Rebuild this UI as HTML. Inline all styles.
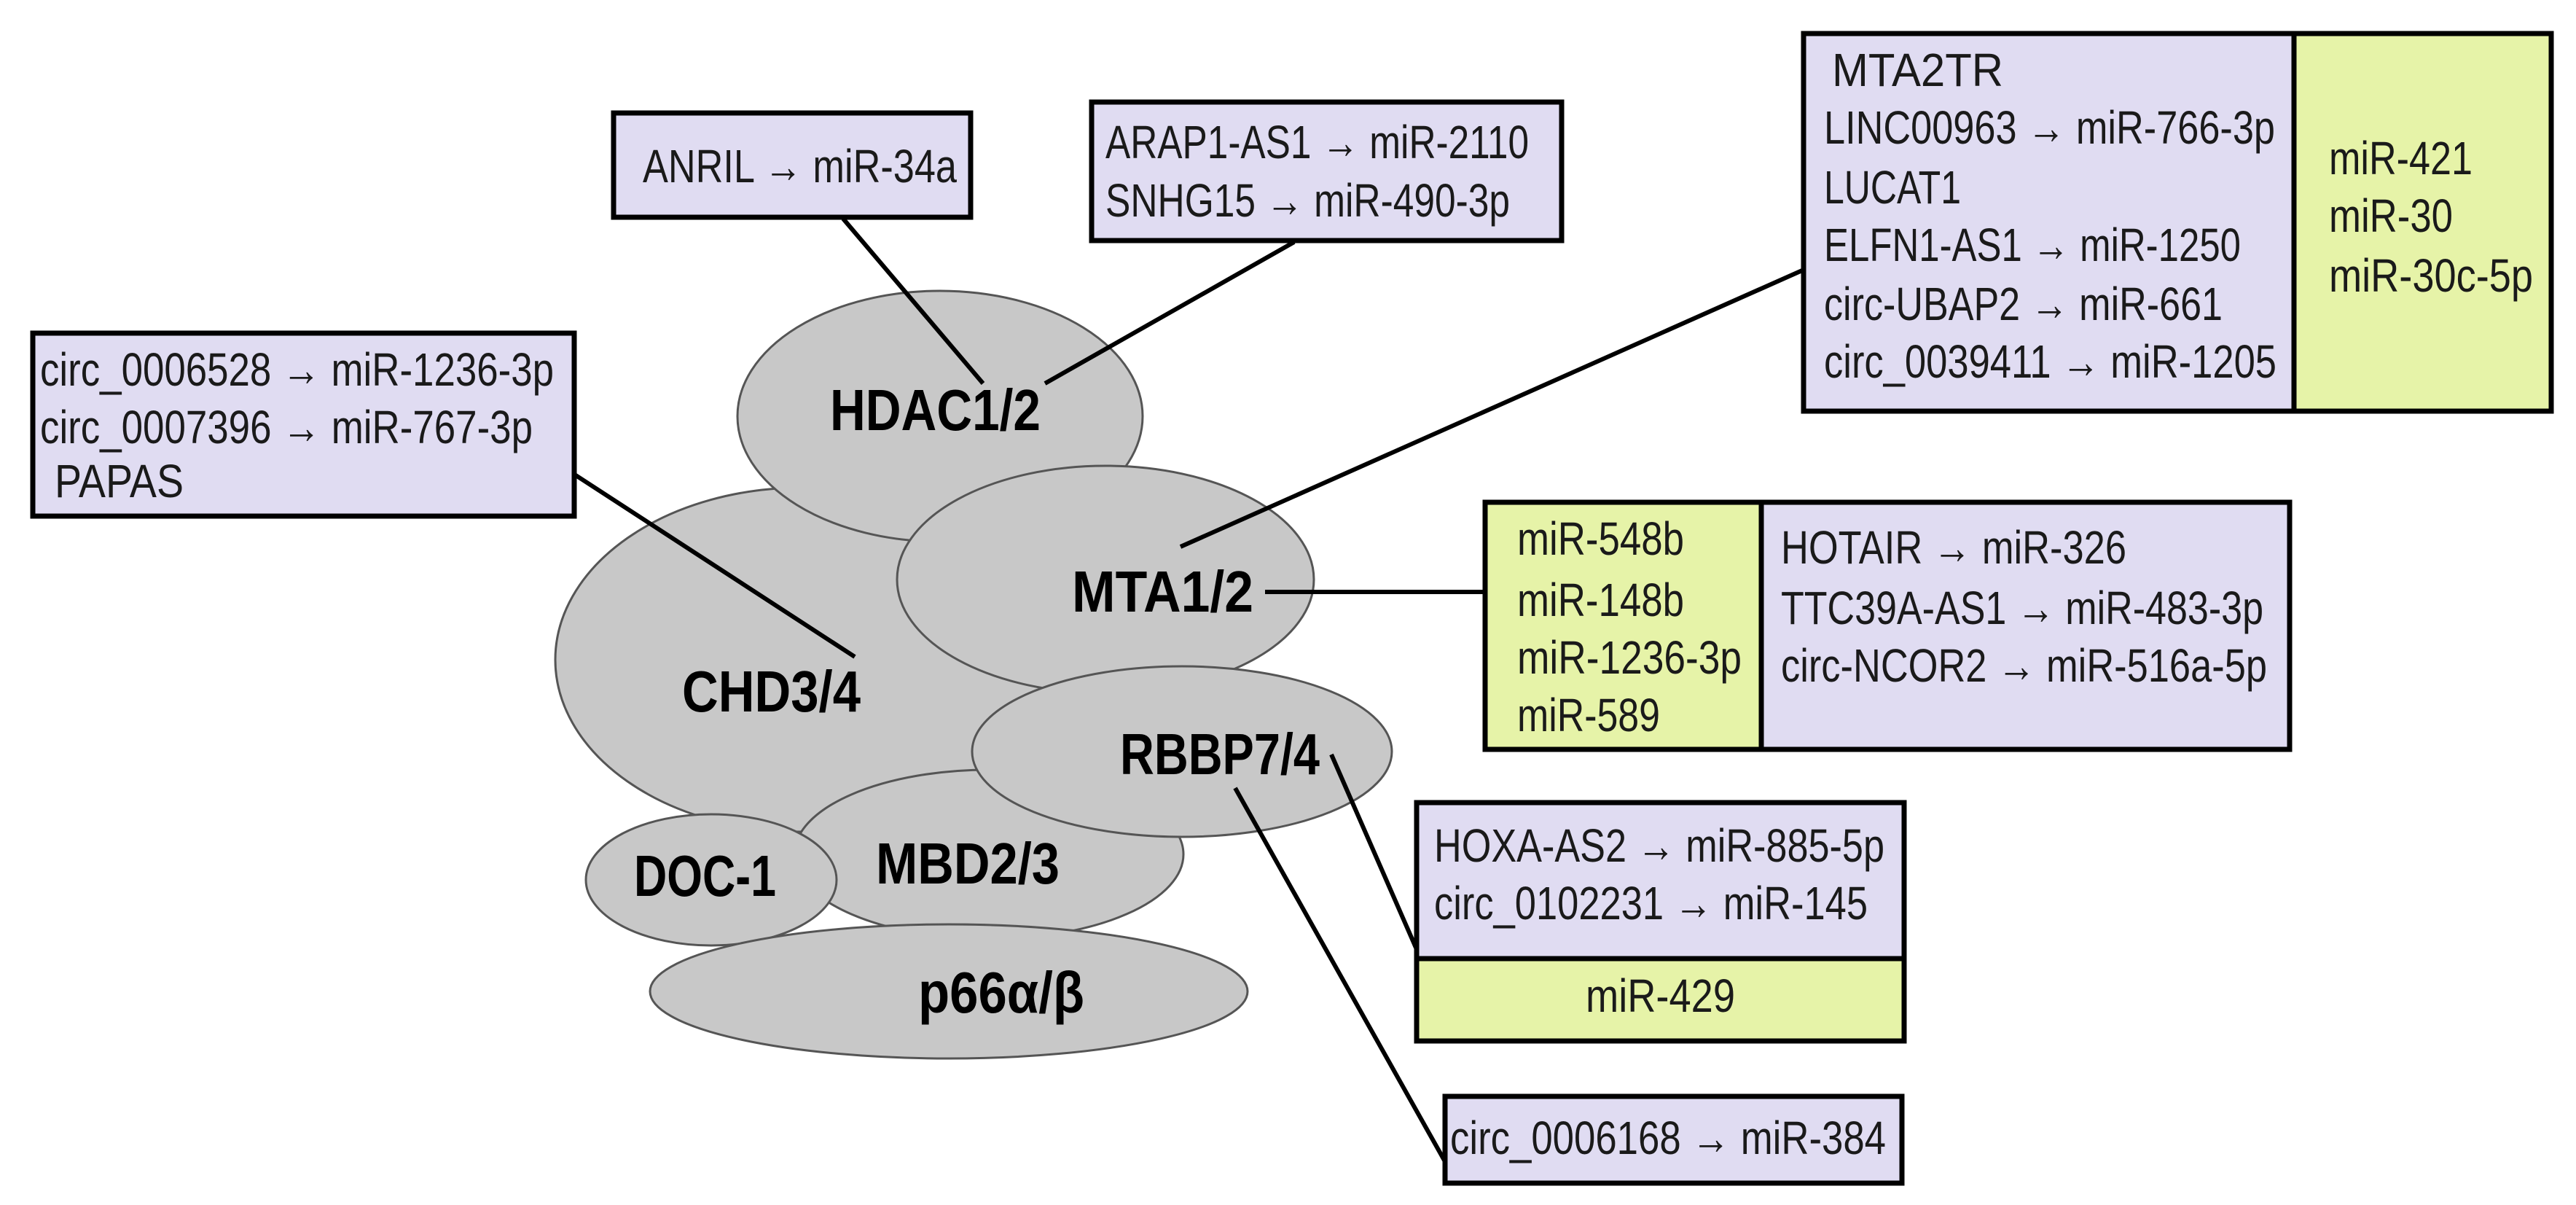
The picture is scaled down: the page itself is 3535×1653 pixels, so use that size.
<!DOCTYPE html>
<html><head><meta charset="utf-8"><style>
html,body{margin:0;padding:0;background:#fff;}
svg{display:block;}
text{font-family:"Liberation Sans",sans-serif;fill:#1a1a1a;}
.r{font-size:64px;}
.b{font-size:80px;font-weight:bold;fill:#000;}
</style></head><body>
<svg width="3535" height="1653" viewBox="0 0 3535 1653" xmlns="http://www.w3.org/2000/svg">
<rect width="3535" height="1653" fill="#fff"/>
<g fill="#c8c8c8" stroke="#555" stroke-width="3">
<ellipse cx="1100" cy="905" rx="338" ry="236"/>
<ellipse cx="1290" cy="571" rx="278" ry="172"/>
<ellipse cx="1517" cy="795" rx="286" ry="156"/>
<ellipse cx="1357" cy="1172" rx="267" ry="116"/>
<ellipse cx="1622" cy="1031" rx="288" ry="117"/>
<ellipse cx="976" cy="1207" rx="172" ry="90"/>
<ellipse cx="1302" cy="1360" rx="410" ry="92"/>
</g>
<g class="b" >
<text class="b" x="1139" y="590" textLength="289" lengthAdjust="spacingAndGlyphs">HDAC1/2</text>
<text class="b" x="1471" y="839" textLength="249" lengthAdjust="spacingAndGlyphs">MTA1/2</text>
<text class="b" x="936" y="976" textLength="245" lengthAdjust="spacingAndGlyphs">CHD3/4</text>
<text class="b" x="1537" y="1062" textLength="274" lengthAdjust="spacingAndGlyphs">RBBP7/4</text>
<text class="b" x="1202" y="1212" textLength="252" lengthAdjust="spacingAndGlyphs">MBD2/3</text>
<text class="b" x="870" y="1229" textLength="195" lengthAdjust="spacingAndGlyphs">DOC-1</text>
<text class="b" x="1260" y="1389" textLength="228" lengthAdjust="spacingAndGlyphs">p66α/β</text>
</g>
<g stroke="#000" stroke-width="6" fill="none">
<line x1="1157" y1="300" x2="1349" y2="526"/>
<line x1="1776" y1="332" x2="1434" y2="526"/>
<line x1="787" y1="650" x2="1173" y2="901"/>
<line x1="2473" y1="371" x2="1620" y2="750"/>
<line x1="1736" y1="812" x2="2038" y2="812"/>
<line x1="1827" y1="1035" x2="1943" y2="1300"/>
<line x1="1695" y1="1081" x2="1985" y2="1597"/>
</g>
<g stroke="#000" stroke-width="7">
<rect x="842" y="155" width="490" height="143" fill="#e0dcf2"/>
<rect x="1498" y="140" width="645" height="190" fill="#e0dcf2"/>
<rect x="45" y="457" width="743" height="251" fill="#e0dcf2"/>
<rect x="2475" y="46" width="673" height="518" fill="#e0dcf2"/>
<rect x="3148" y="46" width="353" height="518" fill="#e6f3a8"/>
<rect x="2038" y="689" width="379" height="339" fill="#e6f3a8"/>
<rect x="2417" y="689" width="725" height="339" fill="#e0dcf2"/>
<rect x="1944" y="1101" width="669" height="214" fill="#e0dcf2"/>
<rect x="1944" y="1315" width="669" height="113" fill="#e6f3a8"/>
<rect x="1983" y="1504" width="627" height="119" fill="#e0dcf2"/>
</g>
<g class="r">
<text class="r" x="882" y="250" textLength="431" lengthAdjust="spacingAndGlyphs">ANRIL → miR-34a</text>
<text class="r" x="1517" y="217" textLength="581" lengthAdjust="spacingAndGlyphs">ARAP1-AS1 → miR-2110</text>
<text class="r" x="1517" y="297" textLength="555" lengthAdjust="spacingAndGlyphs">SNHG15 → miR-490-3p</text>
<text class="r" x="55" y="529" textLength="705" lengthAdjust="spacingAndGlyphs">circ_0006528 → miR-1236-3p</text>
<text class="r" x="55" y="608" textLength="676" lengthAdjust="spacingAndGlyphs">circ_0007396 → miR-767-3p</text>
<text class="r" x="75" y="682" textLength="177" lengthAdjust="spacingAndGlyphs">PAPAS</text>
<text class="r" x="2514" y="118" textLength="235" lengthAdjust="spacingAndGlyphs">MTA2TR</text>
<text class="r" x="2503" y="197" textLength="619" lengthAdjust="spacingAndGlyphs">LINC00963 → miR-766-3p</text>
<text class="r" x="2503" y="279" textLength="188" lengthAdjust="spacingAndGlyphs">LUCAT1</text>
<text class="r" x="2503" y="358" textLength="572" lengthAdjust="spacingAndGlyphs">ELFN1-AS1 → miR-1250</text>
<text class="r" x="2503" y="439" textLength="547" lengthAdjust="spacingAndGlyphs">circ-UBAP2 → miR-661</text>
<text class="r" x="2503" y="518" textLength="621" lengthAdjust="spacingAndGlyphs">circ_0039411 → miR-1205</text>
<text class="r" x="3196" y="239" textLength="197" lengthAdjust="spacingAndGlyphs">miR-421</text>
<text class="r" x="3196" y="318" textLength="170" lengthAdjust="spacingAndGlyphs">miR-30</text>
<text class="r" x="3196" y="400" textLength="280" lengthAdjust="spacingAndGlyphs">miR-30c-5p</text>
<text class="r" x="2082" y="761" textLength="229" lengthAdjust="spacingAndGlyphs">miR-548b</text>
<text class="r" x="2082" y="845" textLength="229" lengthAdjust="spacingAndGlyphs">miR-148b</text>
<text class="r" x="2082" y="924" textLength="308" lengthAdjust="spacingAndGlyphs">miR-1236-3p</text>
<text class="r" x="2082" y="1003" textLength="196" lengthAdjust="spacingAndGlyphs">miR-589</text>
<text class="r" x="2444" y="773" textLength="474" lengthAdjust="spacingAndGlyphs">HOTAIR → miR-326</text>
<text class="r" x="2444" y="856" textLength="662" lengthAdjust="spacingAndGlyphs">TTC39A-AS1 → miR-483-3p</text>
<text class="r" x="2444" y="935" textLength="667" lengthAdjust="spacingAndGlyphs">circ-NCOR2 → miR-516a-5p</text>
<text class="r" x="1968" y="1182" textLength="618" lengthAdjust="spacingAndGlyphs">HOXA-AS2 → miR-885-5p</text>
<text class="r" x="1968" y="1261" textLength="595" lengthAdjust="spacingAndGlyphs">circ_0102231 → miR-145</text>
<text class="r" x="2176" y="1388" textLength="205" lengthAdjust="spacingAndGlyphs">miR-429</text>
<text class="r" x="1990" y="1583" textLength="598" lengthAdjust="spacingAndGlyphs">circ_0006168 → miR-384</text>
</g>
</svg>
</body></html>
